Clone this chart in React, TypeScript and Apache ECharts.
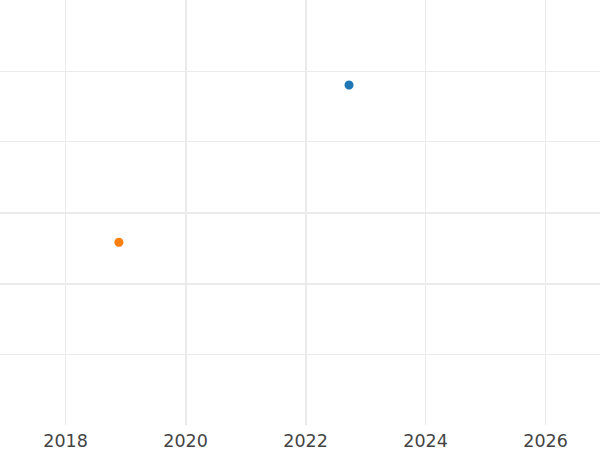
import React, { useEffect, useRef } from "react";
import * as echarts from "echarts";

const xTickValues = [2018, 2020, 2022, 2024, 2026];
const xRange = [2016.908, 2026.908];
const yRange = [0, 6];
const xStrongLines = [2020, 2022];
const yStrongLines = [2, 3];

const blueX = [2022.725];
const blueY = [4.8];
const orangeX = [2018.89];
const orangeY = [2.58];

export default function App() {
  const ref = useRef<HTMLDivElement>(null);
  useEffect(() => {
    if (!ref.current) return;
    const chart = echarts.init(ref.current, null, { renderer: "svg" });
    const gridColor = "#ebebeb";
    chart.setOption({
      animation: false,
      backgroundColor: "#ffffff",
      grid: { left: 0, right: 0, top: 0, bottom: 22.5, containLabel: false },
      xAxis: {
        type: "value",
        min: xRange[0],
        max: xRange[1],
        axisLine: { show: false },
        axisTick: { show: false, customValues: xTickValues },
        axisLabel: {
          customValues: xTickValues,
          color: "#444444",
          fontFamily: "DejaVu Sans",
          fontSize: 17.5,
          margin: 7,
          formatter: (v: number) => String(Math.round(v)),
        },
        splitLine: { show: true, lineStyle: { color: gridColor, width: 1 } },
      },
      yAxis: {
        type: "value",
        min: yRange[0],
        max: yRange[1],
        interval: 1,
        axisLine: { show: false },
        axisTick: { show: false },
        axisLabel: { show: false },
        splitLine: {
          show: true,
          showMinLine: false,
          showMaxLine: false,
          lineStyle: { color: gridColor, width: 1 },
        },
      },
      series: [
        {
          type: "scatter",
          symbolSize: 9,
          itemStyle: { color: "#1f77b4", opacity: 1 },
          data: blueX.map((x, i) => [x, blueY[i]]),
          z: 5,
          markLine: {
            silent: true,
            symbol: "none",
            label: { show: false },
            lineStyle: { color: gridColor, width: 2, type: "solid" },
            data: [
              ...xStrongLines.map((v) => ({ xAxis: v })),
              ...yStrongLines.map((v) => ({ yAxis: v })),
            ],
            z: 1,
          },
        },
        {
          type: "scatter",
          symbolSize: 9,
          itemStyle: { color: "#ff7f0e", opacity: 1 },
          data: orangeX.map((x, i) => [x, orangeY[i]]),
          z: 5,
        },
      ],
    });
    return () => chart.dispose();
  }, []);
  return <div ref={ref} style={{ width: 600, height: 450, position: "absolute", left: 0, top: 0 }} />;
}
